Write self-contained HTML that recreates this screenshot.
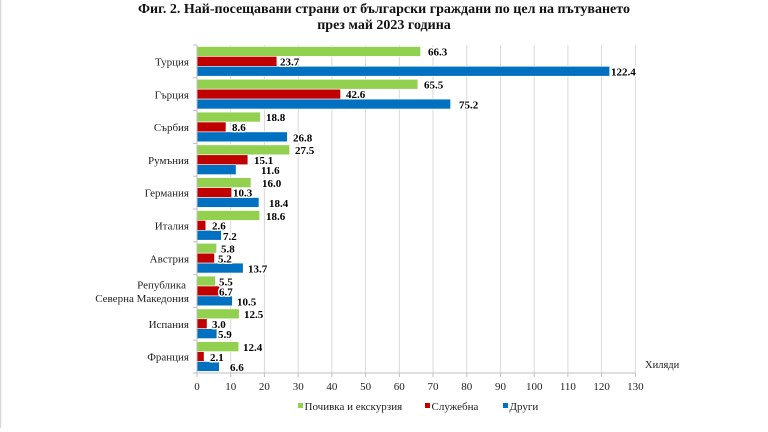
<!DOCTYPE html>
<html>
<head>
<meta charset="utf-8">
<style>
html,body{margin:0;padding:0;background:#fff;}
svg{display:block;}
text{font-family:"Liberation Serif","Noto Serif CJK SC",serif;}
.v{font-weight:bold;font-size:11px;fill:#000;stroke:#fff;stroke-width:3px;paint-order:stroke;stroke-linejoin:round;}
.c{font-size:11px;fill:#222;}
.t{font-size:11px;fill:#222;}
</style>
</head>
<body>
<svg width="768" height="432" viewBox="0 0 768 432" xmlns="http://www.w3.org/2000/svg">
<rect width="768" height="432" fill="#fff"/>
<line x1="0.5" y1="0" x2="0.5" y2="428" stroke="#d9d9d9" stroke-width="1.5"/>

<text x="384" y="13" text-anchor="middle" font-weight="bold" font-size="14" fill="#111">Фиг. 2. Най-посещавани страни от български граждани по цел на пътуването</text>
<text x="384" y="29" text-anchor="middle" font-weight="bold" font-size="14" fill="#111">през май 2023 година</text>

<g stroke="#d9d9d9" stroke-width="1">
<line x1="230.7" y1="45" x2="230.7" y2="373"/>
<line x1="264.4" y1="45" x2="264.4" y2="373"/>
<line x1="298.2" y1="45" x2="298.2" y2="373"/>
<line x1="331.9" y1="45" x2="331.9" y2="373"/>
<line x1="365.6" y1="45" x2="365.6" y2="373"/>
<line x1="399.3" y1="45" x2="399.3" y2="373"/>
<line x1="433.0" y1="45" x2="433.0" y2="373"/>
<line x1="466.8" y1="45" x2="466.8" y2="373"/>
<line x1="500.5" y1="45" x2="500.5" y2="373"/>
<line x1="534.2" y1="45" x2="534.2" y2="373"/>
<line x1="567.9" y1="45" x2="567.9" y2="373"/>
<line x1="601.6" y1="45" x2="601.6" y2="373"/>
<line x1="635.4" y1="45" x2="635.4" y2="373"/>
</g>

<g id="bars" stroke="#fff" stroke-width="0.6">
<!-- 0 Турция -->
<rect x="197" y="46.5" width="223.6" height="9.9" fill="#92D050"/>
<rect x="197" y="56.4" width="79.9" height="9.9" fill="#C00000"/>
<rect x="197" y="66.3" width="412.7" height="9.9" fill="#0070C0"/>
<!-- 1 Гърция -->
<rect x="197" y="79.3" width="220.9" height="9.9" fill="#92D050"/>
<rect x="197" y="89.2" width="143.6" height="9.9" fill="#C00000"/>
<rect x="197" y="99.1" width="253.6" height="9.9" fill="#0070C0"/>
<!-- 2 Сърбия -->
<rect x="197" y="112.1" width="63.4" height="9.9" fill="#92D050"/>
<rect x="197" y="122.0" width="29.0" height="9.9" fill="#C00000"/>
<rect x="197" y="131.9" width="90.4" height="9.9" fill="#0070C0"/>
<!-- 3 Румъния -->
<rect x="197" y="144.9" width="92.7" height="9.9" fill="#92D050"/>
<rect x="197" y="154.8" width="50.9" height="9.9" fill="#C00000"/>
<rect x="197" y="164.7" width="39.1" height="9.9" fill="#0070C0"/>
<!-- 4 Германия -->
<rect x="197" y="177.7" width="54.0" height="9.9" fill="#92D050"/>
<rect x="197" y="187.6" width="34.7" height="9.9" fill="#C00000"/>
<rect x="197" y="197.5" width="62.0" height="9.9" fill="#0070C0"/>
<!-- 5 Италия -->
<rect x="197" y="210.5" width="62.7" height="9.9" fill="#92D050"/>
<rect x="197" y="220.4" width="8.8" height="9.9" fill="#C00000"/>
<rect x="197" y="230.3" width="24.3" height="9.9" fill="#0070C0"/>
<!-- 6 Австрия -->
<rect x="197" y="243.3" width="19.6" height="9.9" fill="#92D050"/>
<rect x="197" y="253.2" width="17.5" height="9.9" fill="#C00000"/>
<rect x="197" y="263.1" width="46.2" height="9.9" fill="#0070C0"/>
<!-- 7 Македония -->
<rect x="197" y="276.1" width="18.5" height="9.9" fill="#92D050"/>
<rect x="197" y="286.0" width="22.6" height="9.9" fill="#C00000"/>
<rect x="197" y="295.9" width="35.4" height="9.9" fill="#0070C0"/>
<!-- 8 Испания -->
<rect x="197" y="308.9" width="42.2" height="9.9" fill="#92D050"/>
<rect x="197" y="318.8" width="10.1" height="9.9" fill="#C00000"/>
<rect x="197" y="328.7" width="19.9" height="9.9" fill="#0070C0"/>
<!-- 9 Франция -->
<rect x="197" y="341.7" width="41.8" height="9.9" fill="#92D050"/>
<rect x="197" y="351.6" width="7.1" height="9.9" fill="#C00000"/>
<rect x="197" y="361.5" width="22.3" height="9.9" fill="#0070C0"/>
</g>

<!-- axes -->
<g stroke="#bfbfbf" stroke-width="1">
<line x1="197" y1="45" x2="197" y2="373"/>
<line x1="197" y1="373" x2="635.4" y2="373"/>
<line x1="193" y1="45" x2="197" y2="45"/>
<line x1="193" y1="77.8" x2="197" y2="77.8"/>
<line x1="193" y1="110.6" x2="197" y2="110.6"/>
<line x1="193" y1="143.4" x2="197" y2="143.4"/>
<line x1="193" y1="176.2" x2="197" y2="176.2"/>
<line x1="193" y1="209" x2="197" y2="209"/>
<line x1="193" y1="241.8" x2="197" y2="241.8"/>
<line x1="193" y1="274.6" x2="197" y2="274.6"/>
<line x1="193" y1="307.4" x2="197" y2="307.4"/>
<line x1="193" y1="340.2" x2="197" y2="340.2"/>
<line x1="193" y1="373" x2="197" y2="373"/>
<line x1="197" y1="373" x2="197" y2="377"/>
<line x1="230.7" y1="373" x2="230.7" y2="377"/>
<line x1="264.4" y1="373" x2="264.4" y2="377"/>
<line x1="298.2" y1="373" x2="298.2" y2="377"/>
<line x1="331.9" y1="373" x2="331.9" y2="377"/>
<line x1="365.6" y1="373" x2="365.6" y2="377"/>
<line x1="399.3" y1="373" x2="399.3" y2="377"/>
<line x1="433.0" y1="373" x2="433.0" y2="377"/>
<line x1="466.8" y1="373" x2="466.8" y2="377"/>
<line x1="500.5" y1="373" x2="500.5" y2="377"/>
<line x1="534.2" y1="373" x2="534.2" y2="377"/>
<line x1="567.9" y1="373" x2="567.9" y2="377"/>
<line x1="601.6" y1="373" x2="601.6" y2="377"/>
<line x1="635.4" y1="373" x2="635.4" y2="377"/>
</g>

<!-- tick labels -->
<g class="t" text-anchor="middle">
<text x="197" y="390">0</text>
<text x="230.7" y="390">10</text>
<text x="264.4" y="390">20</text>
<text x="298.2" y="390">30</text>
<text x="331.9" y="390">40</text>
<text x="365.6" y="390">50</text>
<text x="399.3" y="390">60</text>
<text x="433.0" y="390">70</text>
<text x="466.8" y="390">80</text>
<text x="500.5" y="390">90</text>
<text x="534.2" y="390">100</text>
<text x="567.9" y="390">110</text>
<text x="601.6" y="390">120</text>
<text x="635.4" y="390">130</text>
</g>
<text x="645" y="368" font-size="10.5" fill="#222">Хиляди</text>

<!-- category labels -->
<g class="c" text-anchor="end">
<text x="189" y="65.5">Турция</text>
<text x="189" y="98.3">Гърция</text>
<text x="189" y="131.1">Сърбия</text>
<text x="189" y="163.9">Румъния</text>
<text x="189" y="196.7">Германия</text>
<text x="189" y="229.5">Италия</text>
<text x="189" y="262.3">Австрия</text>
<text x="186" y="288.5">Република</text>
<text x="189" y="302">Северна Македония</text>
<text x="189" y="327.9">Испания</text>
<text x="189" y="360.7">Франция</text>
</g>

<!-- value labels -->
<g class="v">
<text x="428" y="55.5">66.3</text>
<text x="280" y="65.5">23.7</text>
<text x="611" y="75.5">122.4</text>

<text x="424" y="88.3">65.5</text>
<text x="346" y="98.2">42.6</text>
<text x="459" y="108.5">75.2</text>

<text x="266" y="121">18.8</text>
<text x="232" y="131">8.6</text>
<text x="293" y="141.5">26.8</text>

<text x="295" y="154">27.5</text>
<text x="254" y="164">15.1</text>
<text x="261" y="174">11.6</text>

<text x="262" y="187">16.0</text>
<text x="233" y="196.5">10.3</text>
<text x="269" y="207">18.4</text>

<text x="266" y="220">18.6</text>
<text x="212" y="229.5">2.6</text>
<text x="223" y="240">7.2</text>

<text x="221" y="252.5">5.8</text>
<text x="218" y="262.5">5.2</text>
<text x="248" y="272.5">13.7</text>

<text x="219" y="285.5">5.5</text>
<text x="219" y="295.5">6.7</text>
<text x="237" y="305.5">10.5</text>

<text x="244" y="318">12.5</text>
<text x="212" y="328">3.0</text>
<text x="218" y="338">5.9</text>

<text x="243" y="351">12.4</text>
<text x="210" y="361">2.1</text>
<text x="230" y="371">6.6</text>
</g>

<!-- legend -->
<rect x="298" y="403" width="5" height="5" fill="#92D050"/>
<text x="304.5" y="410" class="t">Почивка и екскурзия</text>
<rect x="425" y="403" width="5" height="5" fill="#C00000"/>
<text x="431.5" y="410" class="t">Служебна</text>
<rect x="503" y="403" width="5" height="5" fill="#0070C0"/>
<text x="509.5" y="410" class="t">Други</text>
</svg>
</body>
</html>
